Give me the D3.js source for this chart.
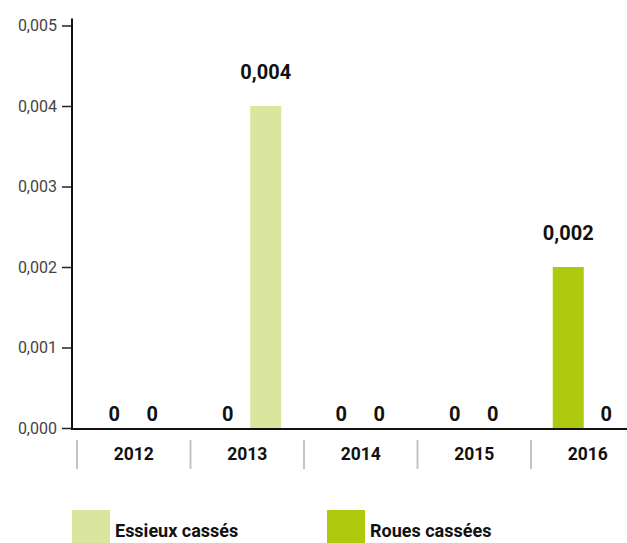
<!DOCTYPE html>
<html><head><meta charset="utf-8">
<script src="https://cdn.jsdelivr.net/npm/d3@7/dist/d3.min.js"></script>
<style>body{margin:0;background:#fff;}svg{display:block;}</style>
</head><body>
<svg id="c" width="627" height="543"></svg>
<script>
const categories = ["2012","2013","2014","2015","2016"];
const seriesNames = ["Roues cassées","Essieux cassés"];
const rouesCassees = [0, 0, 0, 0, 0.002];
const essieuxCasses = [0, 0.004, 0, 0, 0];
const yTicks = [0, 0.001, 0.002, 0.003, 0.004, 0.005];
const legendOrder = ["Essieux cassés","Roues cassées"];
const colors = {"Essieux cassés":"#dae59e","Roues cassées":"#afc90f"};

const values = {"Roues cassées": rouesCassees, "Essieux cassés": essieuxCasses};
const data = categories.map((c,i)=>({cat:c, vals: seriesNames.map(s=>({s, v: values[s][i]}))}));

const svg = d3.select("#c");
const font = "Roboto, 'DejaVu Sans', sans-serif";
const loc = d3.formatLocale({decimal:",", thousands:" ", grouping:[3], currency:["","€"]});
const fmt = loc.format(".3f");

const y = d3.scaleLinear().domain([0, 0.005]).range([428, 25.5]);
const x0 = d3.scaleBand().domain(categories).range([77, 77 + 113.5*5]).paddingInner(0).paddingOuter(0);
const x1 = d3.scaleBand().domain(seriesNames).range([-35, 34]).paddingInner(0.184).paddingOuter(0);

// y axis
const ya = svg.append("g").attr("transform","translate(72,0)")
  .call(d3.axisLeft(y).tickValues(yTicks).tickFormat(fmt).tickSize(10).tickPadding(5));
ya.select(".domain").remove();
ya.selectAll(".tick line").attr("stroke","#222").attr("stroke-width",1.5);
ya.selectAll(".tick text").attr("font-family",font).attr("font-size",16).attr("fill","#444");
svg.append("line").attr("x1",72).attr("x2",72).attr("y1",y(0.005)-7).attr("y2",y(0)+2)
  .attr("stroke","#111").attr("stroke-width",2);

// bars
const g = svg.append("g");
const grp = g.selectAll("g.cat").data(data).join("g")
  .attr("transform", d=>`translate(${x0(d.cat)+x0.bandwidth()/2},0)`);
grp.selectAll("rect").data(d=>d.vals.filter(e=>e.v>0)).join("rect")
  .attr("x", e=>x1(e.s)).attr("width", x1.bandwidth())
  .attr("y", e=>y(e.v)).attr("height", e=>y(0)+1-y(e.v))
  .attr("fill", e=>colors[e.s]);
grp.selectAll("text").data(d=>d.vals).join("text")
  .attr("x", e=>x1(e.s)+x1.bandwidth()/2)
  .attr("y", e=>y(e.v) - (e.v>0 ? 27 : 7))
  .attr("text-anchor","middle").attr("font-family",font).attr("font-weight","bold")
  .attr("font-size",20).attr("fill","#111")
  .text(e=> e.v===0 ? "0" : fmt(e.v));

// x baseline
svg.append("line").attr("x1",71).attr("x2",627).attr("y1",y(0)+1).attr("y2",y(0)+1)
  .attr("stroke","#111").attr("stroke-width",2);

// category separators and labels
const xa = svg.append("g");
xa.selectAll("line").data(categories).join("line")
  .attr("x1",d=>x0(d)).attr("x2",d=>x0(d)).attr("y1",440).attr("y2",469)
  .attr("stroke","#c4c4c4").attr("stroke-width",2);
xa.selectAll("text").data(categories).join("text")
  .attr("x",d=>x0(d)+x0.bandwidth()/2).attr("y",460)
  .attr("text-anchor","middle").attr("font-family",font).attr("font-weight","bold")
  .attr("font-size",17.5).attr("fill","#111").text(d=>d);

// legend
const lx = [72, 327];
const lg = svg.append("g");
legendOrder.forEach((s,i)=>{
  lg.append("rect").attr("x",lx[i]).attr("y",510).attr("width",38).attr("height",40).attr("fill",colors[s]);
  lg.append("text").attr("x",lx[i]+43).attr("y",537).attr("font-family",font).attr("font-weight","bold")
    .attr("font-size",18).attr("fill","#111").text(s);
});
</script>
</body></html>
